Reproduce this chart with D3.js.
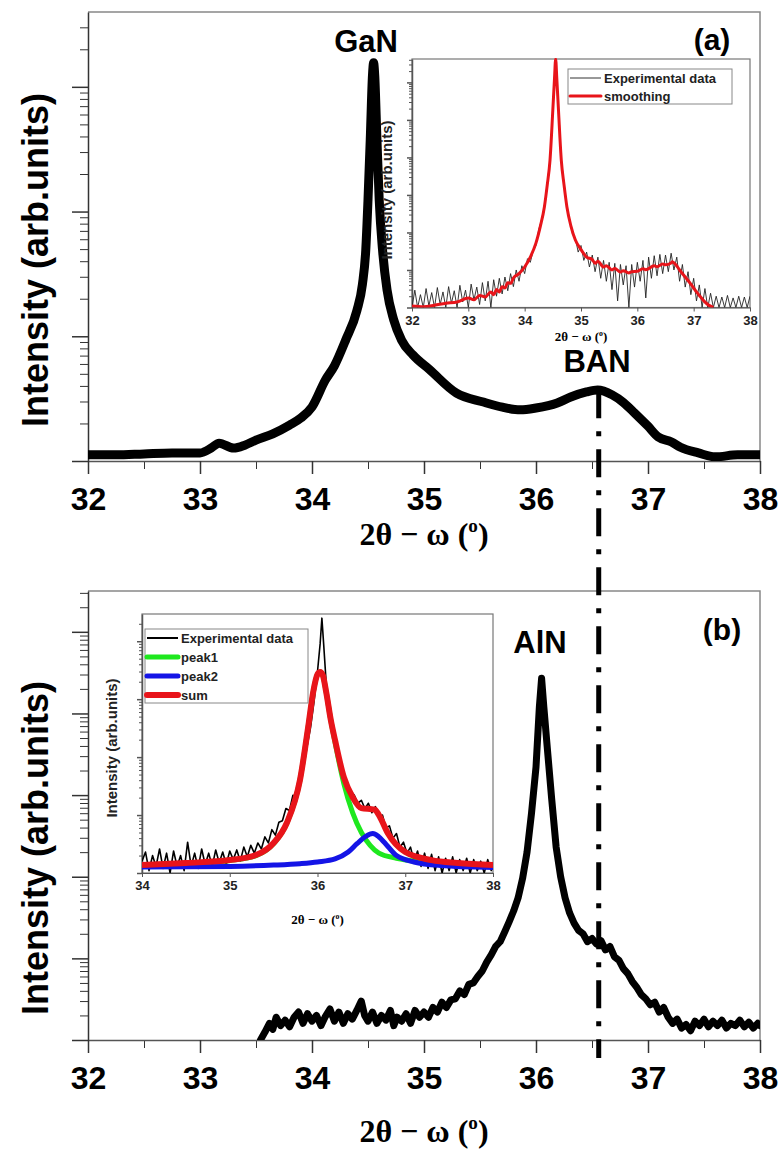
<!DOCTYPE html>
<html>
<head>
<meta charset="utf-8">
<script src="https://cdn.jsdelivr.net/npm/d3@7"></script>
<style>
  body { margin: 0; background: #fff; }
  svg { display: block; }
</style>
</head>
<body>
<div id="chart"></div>
<script>
// ---- data ----
const xMajorTicks = [32, 33, 34, 35, 36, 37, 38];
const xMinorTicks = [32.5, 33.5, 34.5, 35.5, 36.5, 37.5];
const insetBTicks = [34, 35, 36, 37, 38];
const banPosition = 36.56;

// (a) main scan, GaN peak + BAN shoulder  [2theta, intensity]
const ganScan = [
  [32.00, 1.12], [32.25, 1.12], [32.50, 1.14], [32.75, 1.16], [33.00, 1.16], [33.10, 1.27],
  [33.17, 1.39], [33.30, 1.27], [33.40, 1.34], [33.50, 1.47], [33.65, 1.65], [33.80, 1.94],
  [33.90, 2.21], [34.00, 2.71], [34.12, 4.47], [34.20, 5.8], [34.30, 9.3], [34.40, 16],
  [34.45, 26], [34.48, 49], [34.50, 124], [34.52, 375], [34.54, 1240], [34.55, 1560],
  [34.56, 1240], [34.58, 375], [34.60, 124], [34.63, 49], [34.67, 23.5], [34.73, 13.5],
  [34.80, 9.3], [34.90, 7.1], [35.05, 5.4], [35.29, 3.5], [35.53, 2.97], [35.70, 2.7],
  [35.86, 2.57], [36.00, 2.66], [36.19, 2.92], [36.31, 3.26], [36.45, 3.58], [36.55, 3.71],
  [36.68, 3.39], [36.78, 2.95], [36.88, 2.43], [37.00, 1.9], [37.09, 1.56], [37.21, 1.42],
  [37.29, 1.29], [37.45, 1.16], [37.60, 1.08], [37.80, 1.12], [38.00, 1.12]
];

// (b) main scan, AlN peak
const alnScan = [
  [33.54, 1.0], [33.58, 1.25], [33.62, 1.6], [33.65, 1.35], [33.68, 1.9], [33.72, 1.5],
  [33.76, 1.75], [33.80, 1.45], [33.84, 1.9], [33.88, 2.2], [33.92, 1.6], [33.96, 2.1],
  [34.00, 1.7], [34.04, 2.0], [34.08, 1.5], [34.12, 1.95], [34.16, 2.4], [34.20, 1.7],
  [34.24, 2.2], [34.28, 1.6], [34.32, 2.1], [34.36, 1.8], [34.40, 2.3], [34.44, 3.0],
  [34.47, 2.0], [34.50, 1.7], [34.54, 2.2], [34.58, 1.6], [34.62, 2.0], [34.66, 1.75],
  [34.70, 2.3], [34.73, 1.5], [34.76, 1.9], [34.80, 1.7], [34.84, 2.1], [34.88, 1.6],
  [34.92, 2.3], [34.96, 1.9], [35.00, 2.2], [35.04, 1.9], [35.08, 2.5], [35.12, 2.2],
  [35.16, 2.9], [35.20, 2.5], [35.24, 3.1], [35.28, 3.2], [35.32, 4.0], [35.36, 3.6],
  [35.40, 4.8], [35.44, 5.0], [35.48, 6.0], [35.52, 7.0], [35.56, 9.0], [35.60, 11],
  [35.64, 14], [35.68, 16], [35.72, 21], [35.76, 28], [35.80, 38], [35.84, 55],
  [35.88, 95], [35.92, 200], [35.96, 600], [36.00, 2200], [36.03, 12000], [36.05, 27000],
  [36.07, 12000], [36.10, 3900], [36.14, 900], [36.18, 230], [36.22, 100], [36.26, 55],
  [36.30, 36], [36.34, 27], [36.38, 22], [36.42, 20], [36.46, 16], [36.50, 17.5],
  [36.54, 15], [36.58, 16.5], [36.62, 12.7], [36.66, 14], [36.70, 10.5], [36.74, 9.5],
  [36.78, 7.5], [36.82, 6.5], [36.86, 5.2], [36.90, 4.4], [36.94, 3.6], [36.98, 3.2],
  [37.02, 2.7], [37.06, 2.9], [37.10, 2.2], [37.14, 2.5], [37.18, 1.9], [37.22, 1.6],
  [37.26, 1.8], [37.30, 1.4], [37.34, 1.55], [37.38, 1.3], [37.42, 1.7], [37.46, 1.5],
  [37.50, 1.8], [37.54, 1.45], [37.58, 1.7], [37.62, 1.5], [37.66, 1.75], [37.70, 1.4],
  [37.74, 1.6], [37.78, 1.5], [37.82, 1.75], [37.86, 1.45], [37.90, 1.65], [37.94, 1.4],
  [37.98, 1.6], [38.00, 1.5]
];

// inset (a): experimental data and smoothing
const insetAExp = [
  [32.00, 1.0], [32.05, 2.9], [32.10, 1.0], [32.15, 2.2], [32.20, 1.0], [32.25, 3.2],
  [32.30, 1.1], [32.35, 2.5], [32.40, 1.0], [32.45, 3.4], [32.50, 1.2], [32.55, 2.6],
  [32.60, 1.0], [32.65, 3.6], [32.70, 1.3], [32.75, 2.8], [32.80, 1.0], [32.85, 3.9],
  [32.90, 1.4], [32.95, 2.9], [33.00, 1.0], [33.05, 4.2], [33.10, 1.6], [33.15, 3.5],
  [33.20, 1.2], [33.25, 4.6], [33.30, 1.5], [33.35, 5.0], [33.40, 1.0], [33.45, 5.5],
  [33.50, 2.0], [33.55, 6.0], [33.60, 2.3], [33.65, 6.5], [33.70, 2.8], [33.75, 8.0],
  [33.80, 3.6], [33.85, 10], [33.90, 5.0], [33.95, 13], [34.00, 8], [34.05, 20],
  [34.10, 16], [34.15, 32], [34.20, 45], [34.25, 120], [34.30, 220], [34.35, 500],
  [34.40, 2000], [34.45, 9000], [34.50, 2e5], [34.53, 1.5e6], [34.55, 4.2e6], [34.57, 1.5e6],
  [34.60, 2e5], [34.65, 9000], [34.70, 2000], [34.75, 500], [34.80, 220], [34.85, 90],
  [34.90, 70], [34.95, 30], [35.00, 45], [35.05, 18], [35.10, 30], [35.15, 12],
  [35.20, 25], [35.25, 9], [35.30, 22], [35.35, 6], [35.40, 18], [35.45, 5],
  [35.50, 16], [35.55, 3], [35.60, 15], [35.65, 1.5], [35.70, 14], [35.75, 4],
  [35.80, 13], [35.85, 1.0], [35.90, 14], [35.95, 3.5], [36.00, 16], [36.05, 5],
  [36.10, 18], [36.15, 1.8], [36.20, 22], [36.25, 6], [36.30, 24], [36.35, 7],
  [36.40, 26], [36.45, 8], [36.50, 25], [36.55, 9], [36.60, 28], [36.65, 10],
  [36.70, 22], [36.75, 5], [36.80, 14], [36.85, 3.5], [36.90, 9], [36.95, 2.2],
  [37.00, 6], [37.05, 1.5], [37.10, 4], [37.15, 1.0], [37.20, 3.2], [37.25, 1.0],
  [37.30, 2.4], [37.35, 1.0], [37.40, 2.0], [37.45, 1.0], [37.50, 1.9], [37.55, 1.0],
  [37.60, 2.1], [37.65, 1.0], [37.70, 1.8], [37.75, 1.0], [37.80, 2.0], [37.85, 1.0],
  [37.90, 1.9], [37.95, 1.0], [38.00, 2.0]
];
const insetASmooth = [
  [32.0, 1.1], [32.2, 1.05], [32.4, 1.15], [32.6, 1.3], [32.8, 1.4], [33.0, 1.8],
  [33.1, 1.6], [33.2, 2.1], [33.3, 1.9], [33.4, 2.6], [33.45, 2.2], [33.5, 3.0],
  [33.55, 2.6], [33.6, 3.6], [33.65, 3.3], [33.7, 4.6], [33.75, 4.4], [33.8, 6.1],
  [33.9, 8.0], [34.0, 12], [34.1, 22], [34.2, 52], [34.28, 150], [34.35, 480],
  [34.4, 1800], [34.45, 8500], [34.5, 186000], [34.53, 1.3e6], [34.55, 4.2e6], [34.57, 1.3e6],
  [34.6, 186000], [34.65, 8500], [34.7, 1800], [34.75, 480], [34.82, 150], [34.9, 63],
  [35.0, 35], [35.1, 22], [35.2, 19], [35.25, 15], [35.3, 17], [35.4, 12],
  [35.45, 13], [35.55, 10], [35.6, 11], [35.7, 8.8], [35.75, 9.6], [35.85, 8.3],
  [35.9, 9], [36.0, 9.2], [36.1, 10.8], [36.15, 10.2], [36.3, 13], [36.35, 12.2],
  [36.45, 14.5], [36.5, 13.8], [36.6, 15.4], [36.62, 16.5], [36.68, 14], [36.75, 10],
  [36.85, 6.5], [36.95, 4.2], [37.05, 2.6], [37.15, 1.7], [37.25, 1.2], [37.35, 1.0]
];

// inset (b): experimental data and two-peak fit
const insetBExp = [
  [34.00, 1.6], [34.04, 2.3], [34.08, 1.1], [34.12, 2.0], [34.16, 1.3], [34.20, 2.6],
  [34.24, 1.2], [34.28, 2.2], [34.32, 1.0], [34.36, 2.4], [34.40, 1.3], [34.44, 2.0],
  [34.48, 1.1], [34.52, 3.4], [34.56, 1.3], [34.60, 2.2], [34.64, 1.2], [34.68, 2.6],
  [34.72, 1.4], [34.76, 2.2], [34.80, 1.3], [34.84, 2.5], [34.88, 1.5], [34.92, 2.3],
  [34.96, 1.4], [35.00, 2.4], [35.04, 1.7], [35.08, 2.5], [35.12, 1.6], [35.16, 2.8],
  [35.20, 1.9], [35.24, 3.0], [35.28, 2.2], [35.32, 3.3], [35.36, 2.6], [35.40, 4.2],
  [35.44, 3.3], [35.48, 5.6], [35.52, 4.5], [35.56, 7.5], [35.60, 8], [35.64, 13],
  [35.68, 12], [35.72, 22], [35.76, 20], [35.80, 45], [35.84, 65], [35.88, 150],
  [35.92, 320], [35.96, 900], [36.00, 3000], [36.03, 9000], [36.05, 25000], [36.07, 9000],
  [36.10, 1800], [36.14, 500], [36.18, 250], [36.22, 110], [36.26, 70], [36.30, 42],
  [36.34, 36], [36.38, 26], [36.42, 22], [36.46, 16], [36.50, 18], [36.54, 13],
  [36.58, 16], [36.62, 11], [36.66, 14], [36.70, 9], [36.74, 10], [36.78, 6],
  [36.82, 6.5], [36.86, 4], [36.90, 4.8], [36.94, 2.8], [36.98, 3.4], [37.02, 2.2],
  [37.06, 2.8], [37.10, 1.6], [37.14, 2.4], [37.18, 1.3], [37.22, 2.2], [37.26, 1.2],
  [37.30, 2.1], [37.34, 1.1], [37.38, 1.9], [37.42, 1.0], [37.46, 1.8], [37.50, 1.1],
  [37.54, 1.9], [37.58, 1.0], [37.62, 1.7], [37.66, 1.1], [37.70, 1.8], [37.74, 1.0],
  [37.78, 1.7], [37.82, 1.1], [37.86, 1.6], [37.90, 1.0], [37.94, 1.7], [37.98, 1.1],
  [38.00, 1.5]
];
const peak1 = [
  [34.0, 1.35], [34.5, 1.47], [35.0, 1.65], [35.3, 2.0], [35.5, 3.2], [35.65, 7.2],
  [35.8, 40], [35.9, 386], [35.95, 1300], [36.0, 2700], [36.03, 2950], [36.06, 2600],
  [36.1, 1300], [36.15, 450], [36.2, 180], [36.3, 35], [36.4, 11], [36.5, 5.0],
  [36.6, 3.0], [36.7, 2.2], [36.9, 1.8], [37.2, 1.55], [37.6, 1.4], [38.0, 1.32]
];
const peak2 = [
  [34.0, 1.27], [35.0, 1.3], [35.5, 1.37], [35.8, 1.45], [36.0, 1.55], [36.2, 1.75],
  [36.35, 2.3], [36.45, 3.2], [36.55, 4.3], [36.63, 4.8], [36.7, 4.2], [36.8, 2.9],
  [36.9, 2.0], [37.1, 1.55], [37.4, 1.35], [38.0, 1.25]
];
const fitSum = [
  [34.0, 1.37], [34.5, 1.49], [35.0, 1.67], [35.3, 2.04], [35.5, 3.29], [35.65, 7.3],
  [35.8, 40], [35.9, 386], [35.95, 1300], [36.0, 2700], [36.03, 2950], [36.06, 2600],
  [36.1, 1300], [36.15, 450], [36.2, 196], [36.3, 45], [36.4, 20.4], [36.5, 13.2],
  [36.6, 12.7], [36.65, 12.5], [36.7, 10], [36.8, 4.9], [37.0, 2.3], [37.3, 1.67],
  [37.6, 1.49], [38.0, 1.37]
];

const legendA = [
  { name: 'Experimental data', color: '#333', width: 1 },
  { name: 'smoothing', color: '#e8141a', width: 3 }
];
const legendB = [
  { name: 'Experimental data', color: '#000', width: 2 },
  { name: 'peak1', color: '#1ee81e', width: 5 },
  { name: 'peak2', color: '#1414e6', width: 5 },
  { name: 'sum', color: '#e8141a', width: 6 }
];

// ---- drawing ----
const W = 782, H = 1155;
const sans = 'Liberation Sans, Arial, sans-serif';
const serif = 'Liberation Serif, Times New Roman, serif';

const svg = d3.select('#chart').append('svg')
    .attr('width', W)
    .attr('height', H)
    .style('background', '#fff');

function isDecade(v) {
    let l = Math.log10(v);
    return Math.abs(l - Math.round(l)) < 1e-9;
}

// "2θ − ω (°)" with superscript o
function axisTitle(g, x, y, size) {
    let t = g.append('text')
        .attr('x', x).attr('y', y)
        .attr('text-anchor', 'middle')
        .attr('font-family', serif)
        .attr('font-weight', 'bold')
        .attr('font-size', size);
    t.append('tspan').text('2θ − ω (');
    t.append('tspan').attr('dy', -size * 0.4).attr('font-size', size * 0.6).text('o');
    t.append('tspan').attr('dy', size * 0.4).text(')');
}

function logAxisLeft(g, y, xPos, major, minor, color) {
    let ticks = y.ticks();
    g.append('g').attr('transform', `translate(${xPos},0)`)
        .call(d3.axisLeft(y).tickValues(ticks.filter(v => !isDecade(v))).tickSize(minor).tickFormat(''))
        .call(a => a.select('.domain').remove())
        .call(a => a.selectAll('line').attr('stroke', color));
    g.append('g').attr('transform', `translate(${xPos},0)`)
        .call(d3.axisLeft(y).tickValues(ticks.filter(isDecade)).tickSize(major).tickSizeOuter(0).tickFormat(''))
        .call(a => a.selectAll('line,path').attr('stroke', color).attr('stroke-width', 1.5));
}

function drawMain(opts) {
    let g = svg.append('g');
    let x = d3.scaleLinear().domain([32, 38]).range([88, 760]);
    let y = d3.scaleLog().domain([1, opts.yMax]).range([opts.bottom, opts.top]);

    // top and right frame
    g.append('path')
        .attr('d', `M88,${opts.top}H760V${opts.bottom}`)
        .attr('fill', 'none').attr('stroke', '#888').attr('stroke-width', 1.5);

    logAxisLeft(g, y, 88, 16, 8, '#333');

    g.append('g').attr('transform', `translate(0,${opts.bottom})`)
        .call(d3.axisBottom(x).tickValues(xMinorTicks).tickSize(8).tickFormat(''))
        .call(a => a.select('.domain').remove())
        .call(a => a.selectAll('line').attr('stroke', '#333'));
    let xa = g.append('g').attr('transform', `translate(0,${opts.bottom})`)
        .call(d3.axisBottom(x).tickValues(xMajorTicks).tickSize(13).tickPadding(13).tickSizeOuter(0).tickFormat(d3.format('d')));
    xa.selectAll('line').attr('stroke', '#333').attr('stroke-width', 1.5);
    xa.select('.domain').attr('stroke', '#555').attr('stroke-width', 1.5);
    xa.selectAll('text')
        .attr('font-family', sans).attr('font-weight', 'bold')
        .attr('font-size', 32).attr('fill', '#000');

    axisTitle(g, 424, opts.titleY, 32);

    g.append('text')
        .attr('transform', `translate(48,${opts.labelY}) rotate(-90)`)
        .attr('text-anchor', 'middle')
        .attr('font-family', sans).attr('font-weight', 'bold').attr('font-size', 36)
        .text('Intensity (arb.units)');

    return { g, x, y };
}

function drawInset(o) {
    let g = svg.append('g');
    let x = d3.scaleLinear().domain(o.xDomain).range([o.left, o.right]);
    let y = d3.scaleLog().domain([1, o.yMax]).range([o.bottom, o.top]);

    g.append('rect')
        .attr('x', o.left).attr('y', o.top)
        .attr('width', o.right - o.left).attr('height', o.bottom - o.top)
        .attr('fill', '#fff').attr('stroke', '#777').attr('stroke-width', 1.2);

    logAxisLeft(g, y, o.left, 5, 3, '#555');

    let xa = g.append('g').attr('transform', `translate(0,${o.bottom})`)
        .call(d3.axisBottom(x).tickValues(o.ticks).tickSize(4).tickPadding(4).tickSizeOuter(0).tickFormat(d3.format('d')));
    xa.selectAll('line,path').attr('stroke', '#555');
    xa.selectAll('text')
        .attr('font-family', sans).attr('font-weight', 'bold')
        .attr('font-size', 13).attr('fill', '#222');

    axisTitle(g, (o.left + o.right) / 2, o.titleY, 13);

    g.append('text')
        .attr('transform', `translate(${o.ylabX},${o.ylabY}) rotate(-90)`)
        .attr('text-anchor', 'middle')
        .attr('font-family', sans).attr('font-weight', 'bold').attr('font-size', 15)
        .attr('fill', '#222')
        .text('Intensity (arb.units)');

    let clipId = 'clip-' + o.id;
    g.append('clipPath').attr('id', clipId)
        .append('rect')
        .attr('x', o.left).attr('y', o.top - 1)
        .attr('width', o.right - o.left).attr('height', o.bottom - o.top + 1);

    let line = d3.line().x(d => x(d[0])).y(d => y(d[1]));
    o.series.forEach(s => {
        g.append('path')
            .datum(s.data)
            .attr('clip-path', `url(#${clipId})`)
            .attr('d', line.curve(s.smooth ? d3.curveMonotoneX : d3.curveLinear))
            .attr('fill', 'none')
            .attr('stroke', s.color)
            .attr('stroke-width', s.width)
            .attr('stroke-linejoin', 'round');
    });

    // legend
    let lg = g.append('g');
    lg.append('rect')
        .attr('x', o.legend.x).attr('y', o.legend.y)
        .attr('width', o.legend.w).attr('height', o.legend.h)
        .attr('fill', '#fff').attr('stroke', '#888').attr('stroke-width', 1);
    o.legend.items.forEach((d, i) => {
        let ly = o.legend.y + o.legend.first + i * o.legend.step;
        lg.append('line')
            .attr('x1', o.legend.x + 2).attr('x2', o.legend.x + 33)
            .attr('y1', ly).attr('y2', ly)
            .attr('stroke', d.color).attr('stroke-width', d.width)
            .attr('stroke-linecap', d.width > 2 ? 'round' : 'butt');
        lg.append('text')
            .attr('x', o.legend.x + 36).attr('y', ly + 4.5)
            .attr('font-family', sans).attr('font-weight', 'bold').attr('font-size', 13)
            .attr('fill', '#222')
            .text(d.name);
    });
    return { g, x, y };
}

function mainCurve(p, data, bottom, topY, width, id, smooth) {
    p.g.append('clipPath').attr('id', id)
        .append('rect').attr('x', 88).attr('y', topY).attr('width', 672).attr('height', bottom - topY);
    p.g.append('path')
        .datum(data)
        .attr('clip-path', `url(#${id})`)
        .attr('d', d3.line().curve(smooth ? d3.curveMonotoneX : d3.curveLinear)
            .x(d => p.x(d[0])).y(d => p.y(d[1])))
        .attr('fill', 'none')
        .attr('stroke', '#000')
        .attr('stroke-width', width)
        .attr('stroke-linejoin', 'round')
        .attr('stroke-linecap', 'round');
}

function bigLabel(g, text, x, y, size) {
    g.append('text')
        .attr('x', x).attr('y', y)
        .attr('text-anchor', 'middle')
        .attr('font-family', sans).attr('font-weight', 'bold').attr('font-size', size)
        .text(text);
}

// panel (a)
let panelA = drawMain({ top: 12, bottom: 461, yMax: Math.pow(10, 3.6), titleY: 545, labelY: 260 });
drawInset({
    id: 'a', left: 412, right: 750, top: 59, bottom: 307.5,
    xDomain: [32, 38], ticks: xMajorTicks, yMax: 4.2e6, titleY: 341,
    ylabX: 392, ylabY: 190,
    series: [
        { data: insetAExp, color: '#222', width: 0.9 },
        { data: insetASmooth, color: '#e8141a', width: 3, smooth: true }
    ],
    legend: { x: 568, y: 69, w: 164, h: 35, first: 9, step: 18, items: legendA }
});
mainCurve(panelA, ganScan, 461, 12, 9, 'clip-main-a', true);
bigLabel(panelA.g, 'GaN', 366, 52, 31);
bigLabel(panelA.g, 'BAN', 597, 372, 31);
bigLabel(panelA.g, '(a)', 712, 50, 30);

// panel (b)
let panelB = drawMain({ top: 591, bottom: 1040, yMax: Math.pow(10, 5.5), titleY: 1142, labelY: 848 });
drawInset({
    id: 'b', left: 142, right: 493, top: 614, bottom: 873,
    xDomain: [34, 38], ticks: insetBTicks, yMax: Math.pow(10, 4.47), titleY: 924,
    ylabX: 117, ylabY: 748,
    series: [
        { data: insetBExp, color: '#000', width: 1.6 },
        { data: peak1, color: '#1ee81e', width: 5, smooth: true },
        { data: peak2, color: '#1414e6', width: 5, smooth: true },
        { data: fitSum, color: '#e8141a', width: 6, smooth: true }
    ],
    legend: { x: 145, y: 629, w: 163, h: 74, first: 9, step: 19, items: legendB }
});
mainCurve(panelB, alnScan, 1040, 591, 7, 'clip-main-b', false);
bigLabel(panelB.g, 'AlN', 540, 653, 31);
bigLabel(panelB.g, '(b)', 722, 640, 30);

// dash-dot marker through the BAN position, across both panels
svg.append('line')
    .attr('x1', panelA.x(banPosition)).attr('x2', panelA.x(banPosition))
    .attr('y1', panelA.y(3.7)).attr('y2', 1058)
    .attr('stroke', '#000')
    .attr('stroke-width', 5)
    .attr('stroke-dasharray', '28,13,5,13');
</script>
</body>
</html>
